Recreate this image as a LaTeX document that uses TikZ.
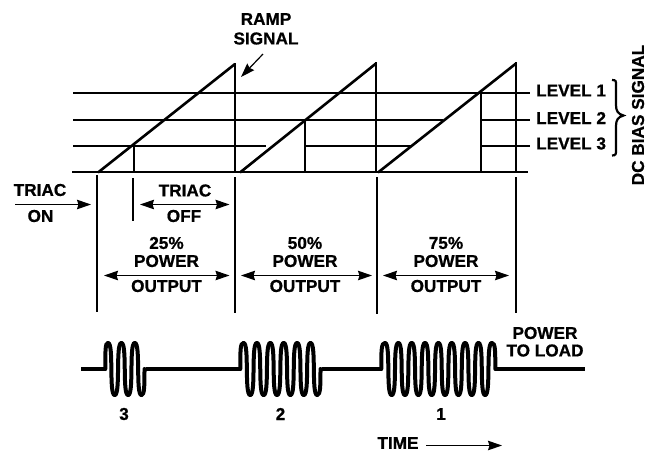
\documentclass[tikz,border=0pt]{standalone}
\usepackage{fontspec}
\setmainfont[BoldFeatures={FakeBold=0.8}]{Liberation Sans}
\usetikzlibrary{arrows.meta}
\newcommand\burstdown[2]{\draw[wave] (#1,343) .. controls ({#1+0.9*#2},343) and ({#1+0.1*#2},395) .. ({#1+#2},395);}
\newcommand\burstup[2]{\draw[wave] (#1,395) .. controls ({#1+0.9*#2},395) and ({#1+0.1*#2},343) .. ({#1+#2},343);}
\tikzset{
  line/.style={line width=2.2pt,draw=black},
  vline/.style={line width=2.6pt,draw=black},
  ramp/.style={line width=2.6pt,draw=black,line join=miter},
  wave/.style={line width=4pt,draw=black,line cap=round},
  dim/.style={line width=1.2pt,draw=black,-{Stealth[length=14pt,width=9.5pt,inset=1.5pt]}},
  dimm/.style={line width=1.2pt,draw=black,{Stealth[length=14pt,width=9.5pt,inset=1.5pt]}-{Stealth[length=14pt,width=9.5pt,inset=1.5pt]}},
  lab/.style={font=\fontsize{17.2}{17.2}\selectfont\bfseries,text=black,inner sep=0pt,anchor=center},
  llab/.style={lab,anchor=west},
}
\begin{document}
\begin{tikzpicture}[x=1pt,y=-1pt]
\useasboundingbox (0,0) rectangle (657,451);
% coordinates
\coordinate (b0) at (72,172); \coordinate (b1) at (528,172);
\coordinate (l1a) at (73,93); \coordinate (l1b) at (530,93);
\coordinate (l2a) at (73,120); \coordinate (l2b) at (443,120);
\coordinate (l2c) at (482,120); \coordinate (l2d) at (530,120);
\coordinate (l3a) at (73,146); \coordinate (l3b) at (266,146);
\coordinate (l3c) at (305,146); \coordinate (l3d) at (411,146);
\coordinate (l3e) at (482,146); \coordinate (l3f) at (530,146);
% levels
\draw[line] (b0) -- (b1);
\draw[line] (l1a) -- (l1b);
\draw[line] (l2a) -- (l2b);
\draw[line] (l2c) -- (l2d);
\draw[line] (l3a) -- (l3b);
\draw[line] (l3c) -- (l3d);
\draw[line] (l3e) -- (l3f);
% ramps
\draw[ramp] (98,172.5) -- (235,64);
\draw[ramp] (240,172.5) -- (376,63.5);
\draw[ramp] (378,172.5) -- (516,63.5);
\draw[vline] (235,63) -- (235,172);
\draw[vline] (376,62) -- (376,172);
\draw[vline] (516,62) -- (516,172);
% firing verticals
\draw[vline] (134,146) -- (134,172);
\draw[vline] (305,120) -- (305,172);
\draw[vline] (481,93) -- (481,172);
% lower verticals
\draw[vline] (97,175) -- (97,312);
\draw[vline] (235,177) -- (235,313);
\draw[vline] (377,177) -- (377,314);
\draw[vline] (516,177) -- (516,313);
\draw[vline] (133,178) -- (133,221);
% arrows
\coordinate (on0) at (15,204.5); \coordinate (on1) at (91,204.5);
\coordinate (off0) at (140,204.5); \coordinate (off1) at (229.5,204.5);
\draw[dim] (on0) -- (on1);
\draw[dimm] (off0) -- (off1);
\coordinate (p1a) at (104,275.5); \coordinate (p1b) at (229.5,275.5);
\coordinate (p2a) at (241,275.5); \coordinate (p2b) at (372,275.5);
\coordinate (p3a) at (383,275.5); \coordinate (p3b) at (509,275.5);
\draw[dimm] (p1a) -- (p1b);
\draw[dimm] (p2a) -- (p2b);
\draw[dimm] (p3a) -- (p3b);
% text
\node[lab] (ramp) at (266,19) {RAMP};
\node[lab] (signal) at (266,38.5) {SIGNAL};
\coordinate (rs0) at (263,54); \coordinate (rs1) at (241,77);
\draw[dim] (rs0) -- (rs1);
\node[lab] (t1) at (40,190) {TRIAC};
\node[lab] (on) at (40.5,216) {ON};
\node[lab] (t2) at (185,190.5) {TRIAC};
\node[lab] (off) at (184,216) {OFF};
\node[lab] (a1) at (166.5,243) {25\%};
\node[lab] (a2) at (166.5,261) {POWER};
\node[lab] (a3) at (166.5,286) {OUTPUT};
\node[lab] (b1t) at (305,243) {50\%};
\node[lab] (b2t) at (305,261) {POWER};
\node[lab] (b3t) at (305,286) {OUTPUT};
\node[lab] (c1) at (446,243) {75\%};
\node[lab] (c2) at (446,261) {POWER};
\node[lab] (c3) at (446,286) {OUTPUT};
\node[llab] (lv1) at (536,90.5) {LEVEL 1};
\node[llab] (lv2) at (536,118) {LEVEL 2};
\node[llab] (lv3) at (536,143.5) {LEVEL 3};
\node[lab,rotate=90] (dc) at (638,115) {DC BIAS SIGNAL};
\node[lab] (pw) at (545,333) {POWER};
\node[lab] (tl) at (545,350.5) {TO LOAD};
\node[lab] (n3) at (124,414) {3};
\node[lab] (n2) at (280.5,414) {2};
\node[lab] (n1) at (441,414) {1};
\node[lab] (time) at (398,443) {TIME};
\coordinate (tm0) at (426,445.5); \coordinate (tm1) at (502,445.5);
\draw[dim] (tm0) -- (tm1);
% brace
\draw[line width=2.2pt,draw=black] (612,80) .. controls (616,80) and (616,81) .. (616,85)
  -- (616,105) .. controls (616,111) and (618,114) .. (623.5,115.5)
  .. controls (618,117) and (616,120) .. (616,126)
  -- (616,150) .. controls (616,154) and (616,155.5) .. (612,155.5);
% waveform
\draw[wave,line cap=butt] (81,369) -- (105.5,369);
\draw[wave,line cap=butt] (145.5,369) -- (240,369);
\draw[wave,line cap=butt] (321.5,369) -- (381.5,369);
\draw[wave,line cap=butt] (495.5,369) -- (585,369);
% burst 3
\draw[wave] (105.3,369) .. controls (105.3,350) and (105.3,343) .. (108,343);
\foreach \x in {108,121.4,134.8}{\burstdown{\x}{6.7}}
\foreach \x in {114.7,128.1}{\burstup{\x}{6.7}}
\draw[wave] (141.5,395) .. controls (144.5,395) and (144.5,385) .. (144.5,369);
% burst 2
\draw[wave] (240.3,369) .. controls (240.3,350) and (240.3,343) .. (243.5,343);
\foreach \x in {243.5,256.9,270.3,283.7,297.1,310.5}{\burstdown{\x}{6.7}}
\foreach \x in {250.2,263.6,277,290.4,303.8}{\burstup{\x}{6.7}}
\draw[wave] (317.2,395) .. controls (320.5,395) and (320.5,385) .. (320.5,369);
% burst 1
\draw[wave] (381.3,369) .. controls (381.3,350) and (381.3,343) .. (385,343);
\foreach \x in {385,398.35,411.7,425.05,438.4,451.75,465.1,478.45}{\burstdown{\x}{6.67}}
\foreach \x in {391.67,405.02,418.37,431.72,445.07,458.42,471.77,485.12}{\burstup{\x}{6.67}}
\draw[wave] (491.8,343) .. controls (495.3,343) and (495.3,350) .. (495.3,369);
\end{tikzpicture}
\end{document}
